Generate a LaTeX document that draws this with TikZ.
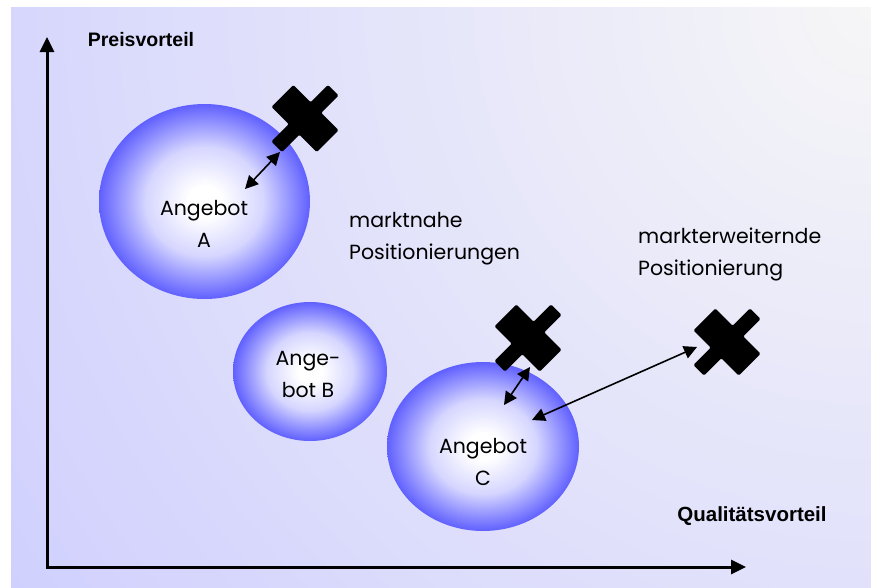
\documentclass[tikz,border=0pt]{standalone}
\usepackage{fontspec}
\setmainfont{Poppins}
\newfontfamily\axisfont{Liberation Sans}
\usetikzlibrary{arrows.meta,shapes.geometric}

\definecolor{bglav}{RGB}{204,204,255}
\definecolor{bgpale}{RGB}{246,246,247}
\definecolor{offerblue}{RGB}{96,96,255}
\colorlet{offermid}{offerblue!26!white}

% white core fading to a saturated blue rim (the rim sits at 25bp)
\pgfdeclareradialshading{offerglow}{\pgfpoint{0bp}{0bp}}{%
  color(0bp)=(white); color(4bp)=(white); color(14bp)=(offermid);
  color(25bp)=(offerblue); color(50bp)=(offerblue)}

\tikzset{
  offer/.style={ellipse, inner sep=0pt, shading=offerglow},
  offertext/.style={align=center, font=\fontsize{20.5}{32}\selectfont},
  notetext/.style={align=left, anchor=west, inner xsep=0pt,
    font=\fontsize{20.5}{32}\selectfont},
  ylabelstyle/.style={font=\axisfont\bfseries\fontsize{19.5}{22}\selectfont},
  xlabelstyle/.style={font=\axisfont\bfseries\fontsize{20.5}{24}\selectfont},
  axisline/.style={line width=3pt, line join=miter,
    {Triangle[length=15pt,width=14pt]}-{Triangle[length=15pt,width=14pt]}},
  span/.style={line width=1.6pt,
    {Triangle[length=13pt,width=13pt]}-{Triangle[length=13pt,width=13pt]}},
  marker/.pic={
    \fill[rotate=-45, rounded corners=1.2pt]
      (-32,-15.5) -- (-7.5,-15.5) -- (-7.5,-40) -- (7.5,-40) -- (7.5,-15.5)
      -- (32,-15.5) -- (32,15.5) -- (7.5,15.5) -- (7.5,40) -- (-7.5,40)
      -- (-7.5,15.5) -- (-32,15.5) -- cycle;
  }
}

\begin{document}
\begin{tikzpicture}[x=1pt,y=-1pt]
\useasboundingbox (0,0) rectangle (871,587);

% backdrop: lavender, brightening toward the upper right corner
\begin{scope}
  \clip (11,7) rectangle (871,587);
  \fill[bglav] (11,7) rectangle (871,587);
  \shade[inner color=bgpale, outer color=bglav] (871,7) circle[radius=1150];
\end{scope}

% offers
\node[offer, minimum width=211pt, minimum height=195pt] (A) at (204.5,201.5) {};
\node[offer, minimum width=154pt, minimum height=139pt] (B) at (310,371.5) {};
\node[offer, minimum width=192pt, minimum height=169pt] (C) at (483,446.5) {};

\node[offertext] (Alabel) at (204,224) {Angebot\\A};
\node[offertext] (Blabel) at (308,374) {Ange-\\bot B};
\node[offertext] (Clabel) at (483,462) {Angebot\\C};

% positionings
\pic (m1) at (305,118.5) {marker};
\pic (m2) at (528,338) {marker};
\pic (m3) at (727,342) {marker};

\coordinate (m1end) at (280,152);
\coordinate (Aend) at (245,189);
\coordinate (m2end) at (530,367);
\coordinate (Cend1) at (504,405);
\coordinate (m3end) at (697,347);
\coordinate (Cend2) at (532,420);

\draw[span] (m1end) -- (Aend);
\draw[span] (m2end) -- (Cend1);
\draw[span] (m3end) -- (Cend2);

\node[notetext] (near) at (349,239) {marktnahe\\Positionierungen};
\node[notetext] (wide) at (638,254) {markterweiternde\\Positionierung};

% axes
\coordinate (O) at (47,567);
\coordinate (ytip) at (47,37);
\coordinate (xtip) at (746,567);
\draw[axisline] (ytip) -- (O) -- (xtip);

\node[ylabelstyle] (ylabel) at (141,40) {Preisvorteil};
\node[xlabelstyle] (xlabel) at (752,516) {Qualitätsvorteil};
\end{tikzpicture}
\end{document}
